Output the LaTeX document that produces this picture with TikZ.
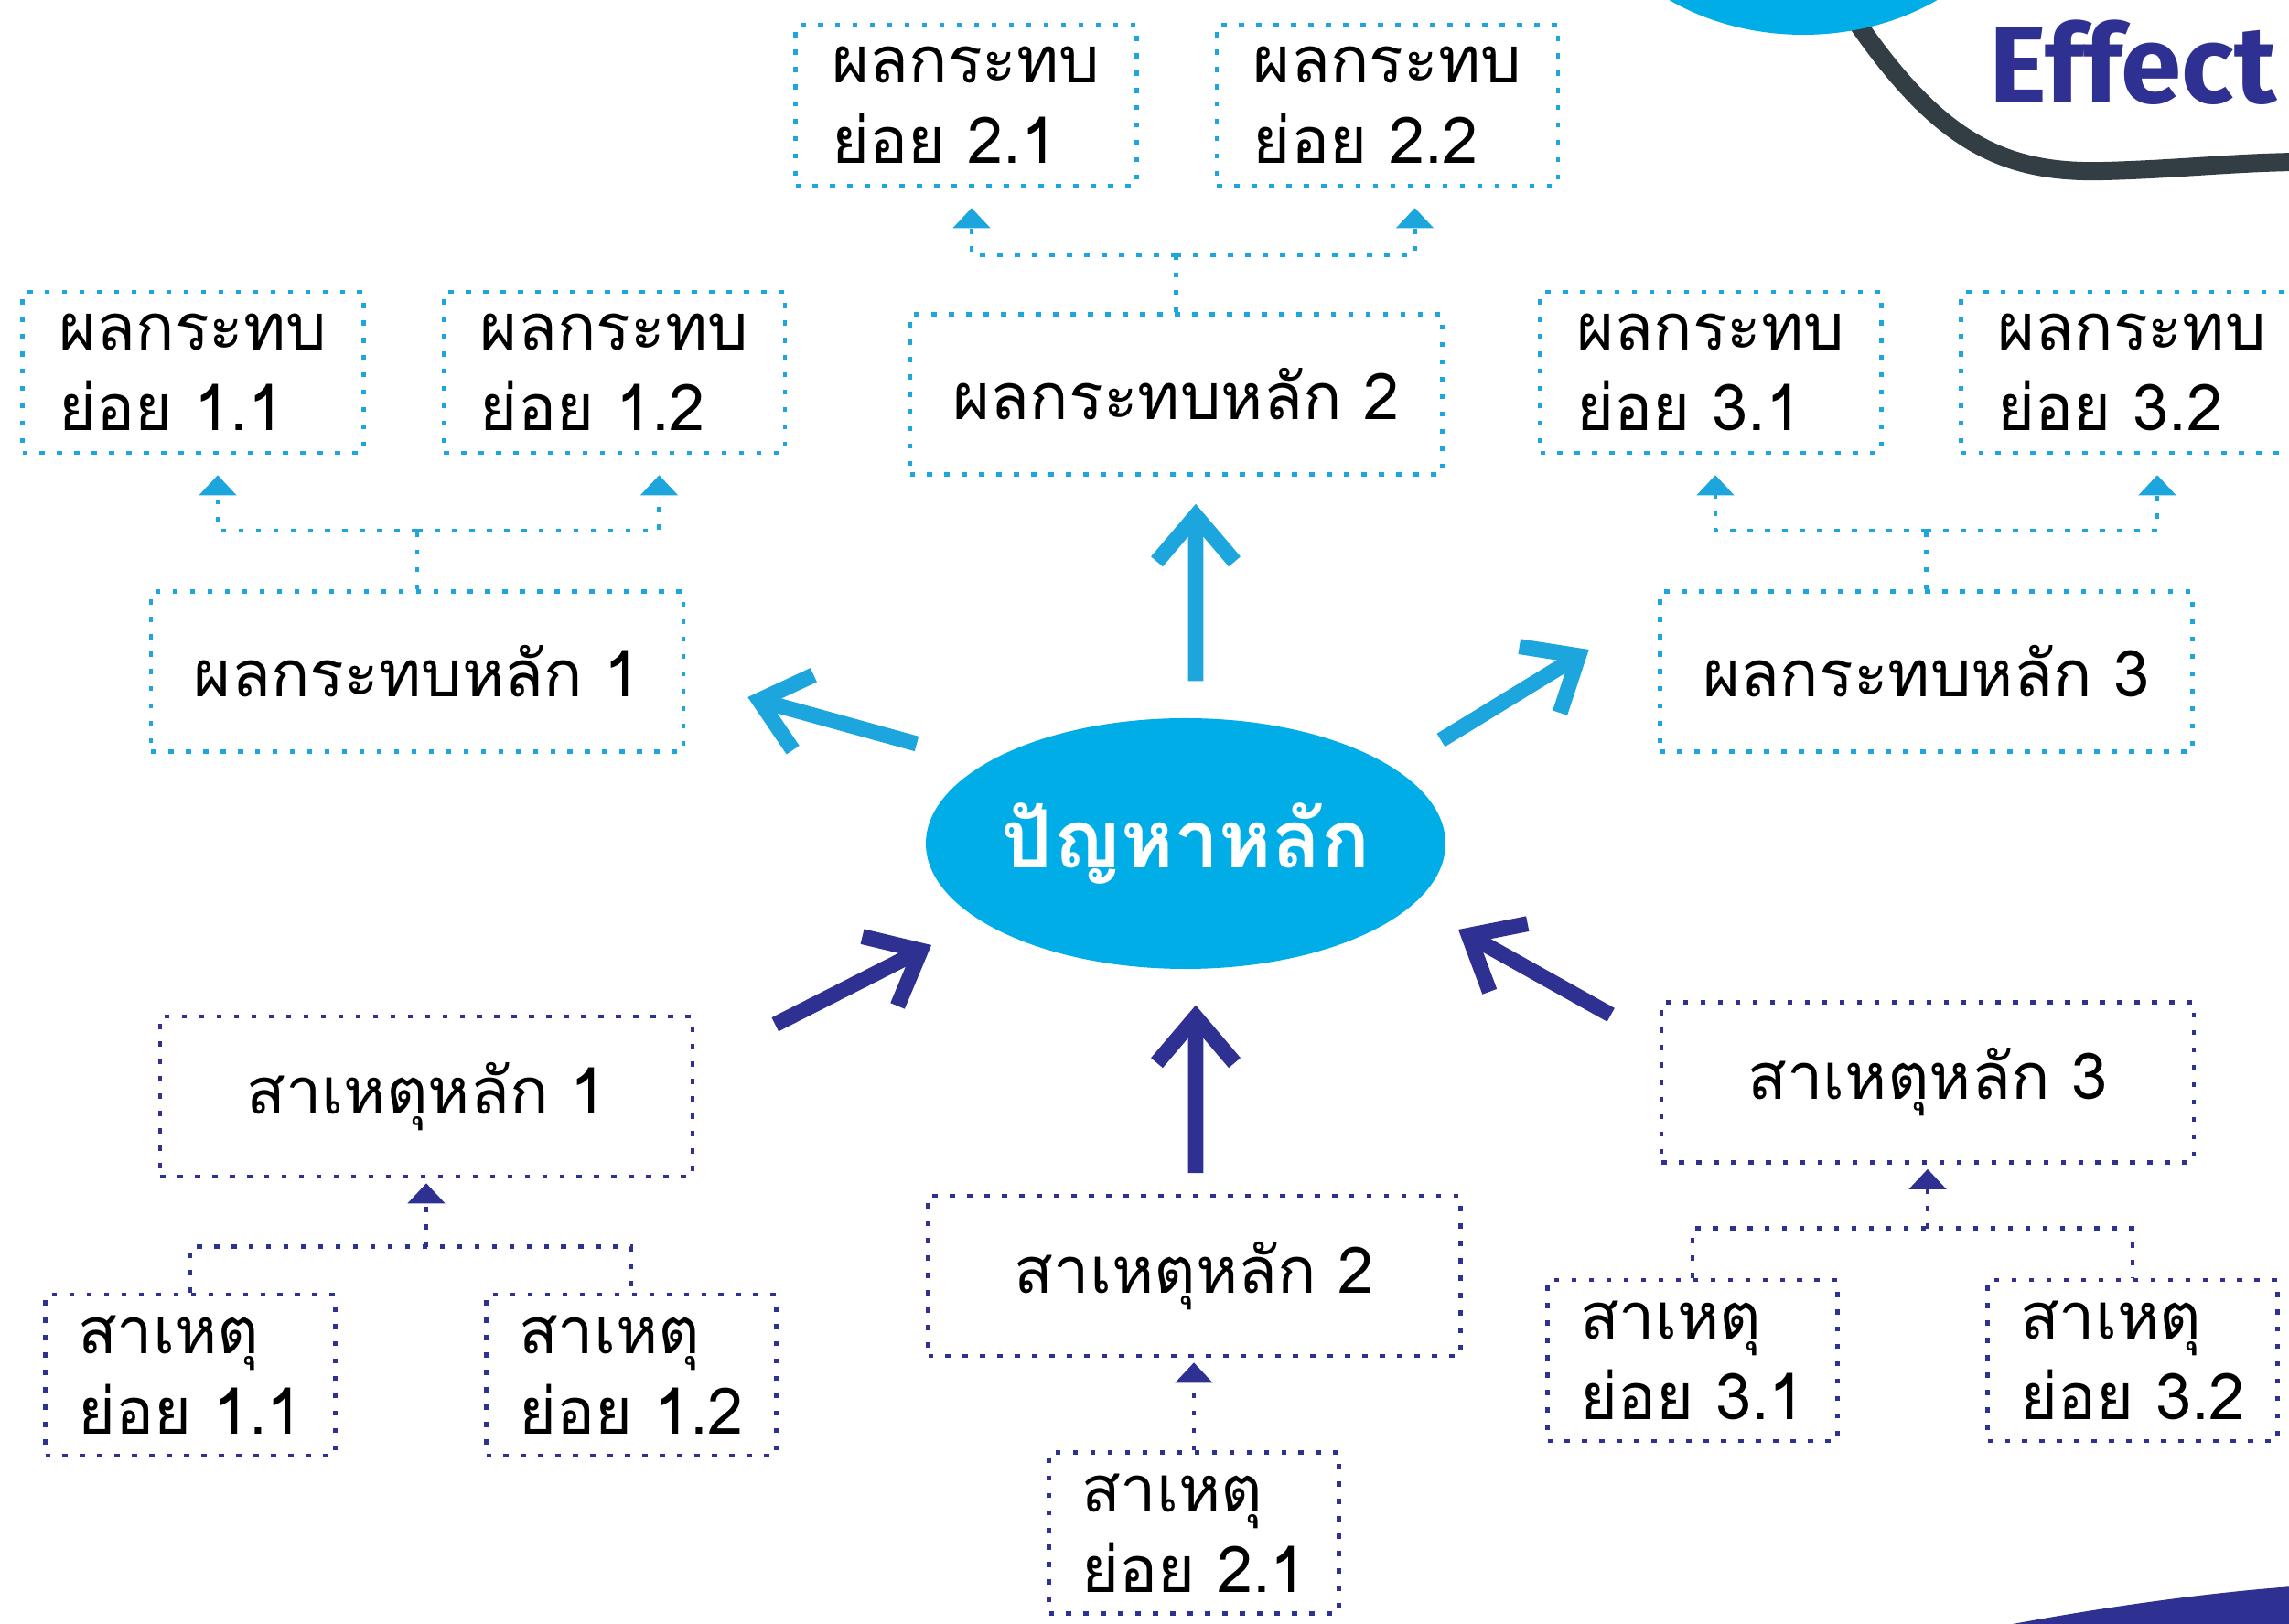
\documentclass[tikz,border=0pt]{standalone}
\usepackage{fontspec}
\setmainfont[Script=Thai]{Loma}
\newfontfamily\effectfont{Fira Sans}
\usetikzlibrary{arrows.meta, shapes.geometric, positioning}
\definecolor{effblue}{HTML}{1DA6DE}
\definecolor{probblue}{HTML}{00ADE6}
\definecolor{causeblue}{HTML}{2E3192}
\definecolor{curvegray}{HTML}{333E44}
\tikzset{
box/.style={
	line width=1.3pt,
	dash pattern=on 1.6pt off 3.8pt,
	inner sep=0pt,
	font=\fontsize{20}{25}\selectfont,
},
mainbox/.style={
	box,
	minimum width=5.82cm,
	minimum height=1.75cm,
	align=center,
},
subeff/.style={
	box,
	minimum width=3.73cm,
	minimum height=1.76cm,
	align=left,
},
subcause/.style={
	box,
	minimum width=3.17cm,
	minimum height=1.76cm,
	align=left,
},
eff/.style={
	draw=effblue,
},
cause/.style={
	draw=causeblue,
},
problem/.style={
	ellipse,
	fill=probblue,
	inner sep=0pt,
	inner xsep=-0.3cm,
	minimum width=5.68cm,
	minimum height=2.74cm,
	text=white,
	font=\fontsize{25}{28}\selectfont\bfseries,
},
effarrow/.style={
	draw=effblue,
	line width=4.8pt,
	-{Straight Barb[length=0.5cm, width=0.85cm]},
},
causearrow/.style={
	effarrow,
	draw=causeblue,
},
dots/.style={
	line width=1.3pt,
	dash pattern=on 1.6pt off 3.8pt,
},
efftree/.style={
	dots,
	draw=effblue,
	-{Triangle[width=0.4cm, length=0.22cm]},
	shorten >=0.22cm,
},
causetree/.style={
	dots,
	draw=causeblue,
	-{Triangle[width=0.4cm, length=0.22cm]},
	shorten >=0.05cm,
},
}

\begin{document}
\begin{tikzpicture}
		\useasboundingbox (0,0) rectangle (25.02,17.75);
		
		% Corner decoration
		\draw[curvegray, line width=0.2cm] (20.3,17.5) .. controls (21.2,16.2) and (21.9,15.85) .. (23.0,15.88)
			.. controls (23.8,15.9) and (24.5,15.98) .. (25.2,15.98);
		\fill[probblue] (19.71,19.37) ellipse [x radius=2.5, y radius=2.0];
		\node[anchor=base west, text=causeblue, font=\effectfont\bfseries\fontsize{34}{36}\selectfont] (title) at (21.62,16.62) {Effect};
		\fill[causeblue] (22.0,0) .. controls (23.2,0.22) and (24.3,0.36) .. (25.2,0.42) -- (25.2,0) -- cycle;
		
		% Problem
		\node[problem] (P) at (12.96,8.53) {ปัญหาหลัก};
		
		% Effect 1
		\node[mainbox, eff] (E1) at (4.56,10.41) {ผลกระทบหลัก 1};
		\node[subeff, eff] (S11) at (2.11,13.68) {ผลกระทบ\\ย่อย 1.1};
		\node[subeff, eff] (S12) at (6.715,13.68) {ผลกระทบ\\ย่อย 1.2};
		% Effect 2
		\node[mainbox, eff] (E2) at (12.855,13.44) {ผลกระทบหลัก 2};
		\node[subeff, eff] (S21) at (10.56,16.60) {ผลกระทบ\\ย่อย 2.1};
		\node[subeff, eff] (S22) at (15.165,16.60) {ผลกระทบ\\ย่อย 2.2};
		% Effect 3
		\node[mainbox, eff] (E3) at (21.055,10.41) {ผลกระทบหลัก 3};
		\node[subeff, eff] (S31) at (18.70,13.68) {ผลกระทบ\\ย่อย 3.1};
		\node[subeff, eff] (S32) at (23.30,13.68) {ผลกระทบ\\ย่อย 3.2};
		
		% Cause 1
		\node[mainbox, cause] (C1) at (4.66,5.765) {สาเหตุหลัก 1};
		\node[subcause, cause] (D11) at (2.08,2.72) {สาเหตุ\\ย่อย 1.1};
		\node[subcause, cause] (D12) at (6.90,2.72) {สาเหตุ\\ย่อย 1.2};
		% Cause 2
		\node[mainbox, cause] (C2) at (13.055,3.805) {สาเหตุหลัก 2};
		\node[subcause, cause] (D21) at (13.05,0.995) {สาเหตุ\\ย่อย 2.1};
		% Cause 3
		\node[mainbox, cause] (C3) at (21.07,5.92) {สาเหตุหลัก 3};
		\node[subcause, cause] (D31) at (18.50,2.88) {สาเหตุ\\ย่อย 3.1};
		\node[subcause, cause] (D32) at (23.31,2.88) {สาเหตุ\\ย่อย 3.2};
		
		% Problem -> effects
		\draw[effarrow] ([shift={(-2.94,1.09)}]P.center) -- ([shift={(0.68,-0.28)}]E1.east);
		\draw[effarrow] ([shift={(0.11,0.40)}]P.north) -- ([shift={(0.215,-0.30)}]E2.south);
		\draw[effarrow] ([shift={(2.79,1.13)}]P.center) -- ([shift={(-0.755,0.24)}]E3.west);
		
		% Causes -> problem
		\draw[causearrow] ([shift={(0.88,-0.11)}]C1.north east) -- ([shift={(-2.78,-1.11)}]P.center);
		\draw[causearrow] ([shift={(0.015,0.225)}]C2.north) -- ([shift={(0.11,-0.39)}]P.south);
		\draw[causearrow] ([shift={(-0.53,-0.16)}]C3.north west) -- ([shift={(2.98,-0.94)}]P.center);
		
		% Effect trees
		\draw[dots, draw=effblue] (E1.north) -- ++(0,0.64) coordinate (E1up);
		\draw[efftree] (E1up) -| ([xshift=2.7mm]S11.south);
		\draw[efftree] (E1up) -| ([xshift=4.9mm]S12.south);
		
		\draw[dots, draw=effblue] (E2.north) -- ++(0,0.62) coordinate (E2up);
		\draw[efftree] (E2up) -| ([xshift=0.6mm]S21.south);
		\draw[efftree] (E2up) -| ([xshift=3mm]S22.south);
		
		\draw[dots, draw=effblue] (E3.north) -- ++(0,0.64) coordinate (E3up);
		\draw[efftree] (E3up) -| ([xshift=0.5mm]S31.south);
		\draw[efftree] (E3up) -| ([xshift=2.8mm]S32.south);
		
		% Cause trees
		\draw[dots, draw=causeblue] (D11.north) -- ++(0,0.50) coordinate (C1bar) -| (D12.north);
		\draw[causetree] (C1bar -| C1.south) -- (C1.south);
		
		\draw[causetree] (D21.north) -- (D21.north |- C2.south);
		
		\draw[dots, draw=causeblue] (D31.north) -- ++(0,0.54) coordinate (C3bar) -| (D32.north);
		\draw[causetree] (C3bar -| C3.south) -- (C3.south);
\end{tikzpicture}
\end{document}
